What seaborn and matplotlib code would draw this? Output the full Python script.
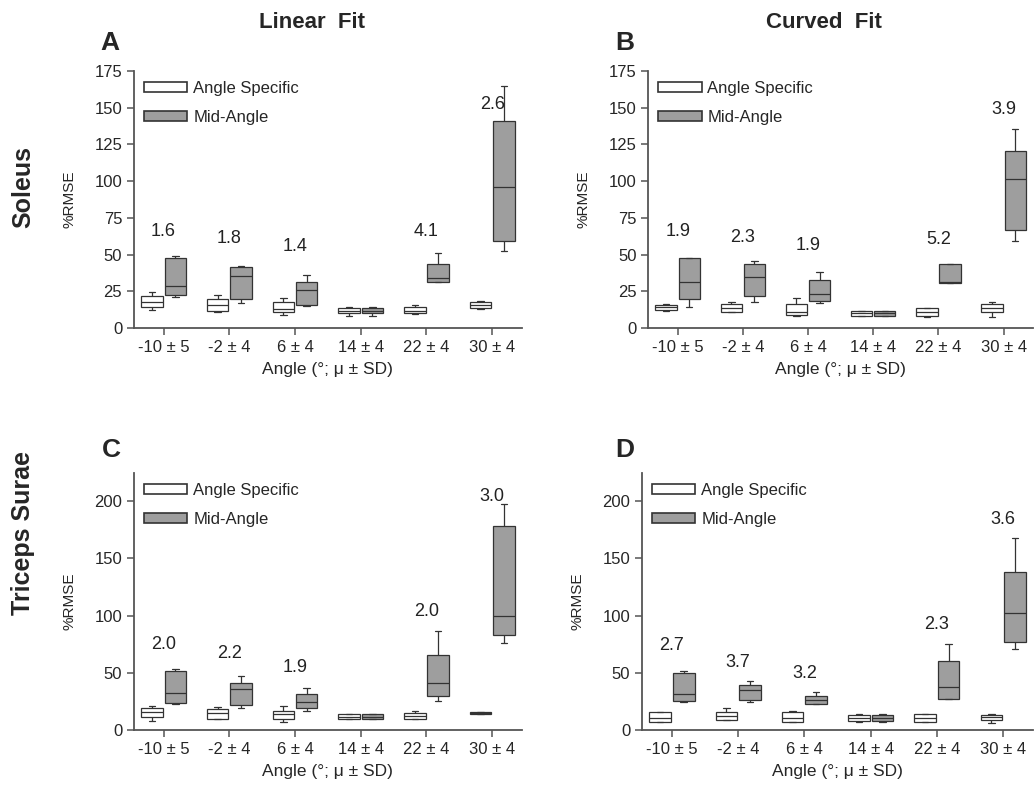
import numpy as np
import pandas as pd
import seaborn as sns
import matplotlib
matplotlib.use("Agg")
from matplotlib import pyplot as plt
from matplotlib.patches import Patch

# Angle categories (x axis)
angles = ["-10 ± 5", "-2 ± 4", "6 ± 4", "14 ± 4", "22 ± 4", "30 ± 4"]
groups = ["Angle Specific", "Mid-Angle"]

# Five-number summaries per box: low whisker, Q1, median, Q3, high whisker
# Panel A: Soleus, linear fit
a_specific = [[12.5, 14.7, 17.5, 22.0, 24.3], [11.3, 11.8, 15.9, 20.0, 22.4],
              [8.8, 10.9, 13.1, 18.1, 20.4], [8.6, 10.2, 12.0, 14.0, 14.3],
              [9.7, 10.2, 11.8, 14.7, 15.9], [13.1, 14.0, 16.1, 18.1, 18.6]]
a_mid = [[21.1, 22.4, 28.8, 47.6, 49.2], [17.0, 19.7, 35.6, 41.5, 42.4],
         [15.4, 15.9, 25.8, 31.1, 36.3], [8.6, 10.2, 12.0, 14.0, 14.3],
         [31.3, 31.7, 33.8, 43.5, 51.0], [52.8, 59.4, 95.7, 141.0, 164.4]]
a_ratio = ["1.6", "1.8", "1.4", "", "4.1", "2.6"]

# Panel B: Soleus, curved fit
b_specific = [[11.8, 12.5, 14.1, 15.9, 16.5], [10.9, 10.9, 13.6, 16.5, 17.7],
              [8.4, 9.1, 10.9, 16.3, 20.4], [8.4, 8.6, 10.2, 12.0, 12.0],
              [7.9, 8.6, 11.3, 13.6, 13.6], [7.9, 10.9, 13.6, 16.3, 17.5]]
b_mid = [[14.7, 19.7, 31.3, 47.6, 48.0], [18.1, 22.2, 34.7, 43.8, 45.8],
         [17.0, 18.6, 23.4, 32.9, 38.1], [8.4, 8.6, 10.2, 12.0, 12.0],
         [30.6, 30.6, 31.7, 43.5, 43.8], [59.4, 66.9, 101.6, 120.8, 135.3]]
b_ratio = ["1.9", "2.3", "1.9", "", "5.2", "3.9"]

# Panel C: Triceps Surae, linear fit
c_specific = [[8.2, 11.7, 15.5, 19.0, 21.0], [9.3, 9.3, 14.6, 18.0, 19.8],
              [7.3, 9.3, 14.0, 16.9, 21.3], [9.3, 9.3, 11.0, 14.0, 14.0],
              [9.6, 9.6, 12.2, 14.6, 16.9], [13.8, 14.3, 14.9, 15.5, 15.9]]
c_mid = [[22.7, 23.3, 32.0, 52.0, 53.0], [19.2, 21.9, 36.2, 41.4, 47.2],
         [16.9, 19.0, 24.8, 31.5, 36.4], [9.3, 9.3, 11.0, 14.0, 14.0],
         [25.7, 29.7, 41.4, 65.3, 86.6], [76.4, 83.0, 100.0, 178.7, 198.0]]
c_ratio = ["2.0", "2.2", "1.9", "", "2.0", "3.0"]

# Panel D: Triceps Surae, curved fit
d_specific = [[7.3, 7.3, 10.8, 15.5, 15.5], [8.7, 8.7, 12.2, 16.0, 19.0],
              [7.3, 7.3, 10.8, 16.0, 16.9], [7.3, 7.9, 10.2, 13.1, 13.7],
              [7.3, 7.3, 10.2, 14.0, 14.0], [6.4, 8.7, 11.7, 13.1, 13.7]]
d_mid = [[24.2, 25.4, 31.5, 50.1, 51.6], [24.2, 26.2, 35.0, 39.4, 42.9],
         [22.7, 22.7, 26.2, 30.0, 33.2], [7.3, 7.9, 10.2, 13.1, 13.7],
         [26.8, 27.1, 37.9, 60.6, 75.2], [70.6, 76.7, 102.6, 138.5, 167.6]]
d_ratio = ["2.7", "3.7", "3.2", "", "2.3", "3.6"]

# Heights at which the ratio labels sit
a_label_y = [66, 61, 55.5, 0, 66, 152]
b_label_y = [66, 62, 56.5, 0, 60, 148.5]
c_label_y = [75, 66.5, 54.5, 0, 103.5, 204.5]
d_label_y = [74, 59, 49.5, 0, 92.5, 184]

GRAY = "#9e9e9e"
EDGE = "#333333"
AXC = "#555555"

sns.set_style("ticks")
plt.rcParams['font.family'] = ['Liberation Sans', 'DejaVu Sans']


def to_long(specific, mid):
    rows = []
    for ang, s, m in zip(angles, specific, mid):
        for v in s:
            rows.append((ang, groups[0], v))
        for v in m:
            rows.append((ang, groups[1], v))
    return pd.DataFrame(rows, columns=["angle", "fit", "rmse"])


def draw(ax, specific, mid, ratios, label_y, ymax, yticks):
    df = to_long(specific, mid)
    sns.boxplot(data=df, x="angle", y="rmse", hue="fit", order=angles,
                hue_order=groups, palette={groups[0]: "white", groups[1]: GRAY},
                whis=(0, 100), width=0.71, gap=0.08, linecolor=EDGE,
                linewidth=0.9, showfliers=False, legend=False,
                capwidths=0.1, ax=ax)
    for i, (r, yy) in enumerate(zip(ratios, label_y)):
        if r:
            ax.text(i, yy, r, ha="center", va="center", fontsize=13, color="#222222")
    ax.set_xlim(-0.45, 5.45)
    ax.set_ylim(0, ymax)
    ax.set_yticks(yticks)
    ax.set_xlabel("Angle (°; μ ± SD)", fontsize=12.5, labelpad=5)
    ax.set_ylabel("%RMSE", fontsize=11, labelpad=13)
    ax.tick_params(axis="both", labelsize=12, length=5, width=1.1,
                   color=AXC, direction="out")
    for side in ["left", "bottom"]:
        ax.spines[side].set_color(AXC)
        ax.spines[side].set_linewidth(1.3)
    sns.despine(ax=ax)
    handles = [Patch(facecolor="white", edgecolor=EDGE, linewidth=1.2, label=groups[0]),
               Patch(facecolor=GRAY, edgecolor=EDGE, linewidth=1.2, label=groups[1])]
    ax.legend(handles=handles, loc="upper left", frameon=False, fontsize=12,
              handlelength=2.6, handleheight=0.6, labelspacing=0.85,
              handletextpad=0.35, borderaxespad=0.3, borderpad=0.3)


fig = plt.figure(figsize=(10.34, 7.87), dpi=100)
ax_a = fig.add_axes([0.1296, 0.583, 0.375, 0.327])
ax_b = fig.add_axes([0.627, 0.583, 0.372, 0.327])
ax_c = fig.add_axes([0.1296, 0.0724, 0.375, 0.327])
ax_d = fig.add_axes([0.621, 0.0724, 0.378, 0.327])

draw(ax_a, a_specific, a_mid, a_ratio, a_label_y, 175, range(0, 176, 25))
draw(ax_b, b_specific, b_mid, b_ratio, b_label_y, 175, range(0, 176, 25))
draw(ax_c, c_specific, c_mid, c_ratio, c_label_y, 225, range(0, 201, 50))
draw(ax_d, d_specific, d_mid, d_ratio, d_label_y, 225, range(0, 201, 50))

# Column titles, panel letters and row labels
fig.text(312 / 1034, 1 - 22 / 787, "Linear  Fit", ha="center", va="center",
         fontsize=16, fontweight="bold")
fig.text(824 / 1034, 1 - 22 / 787, "Curved  Fit", ha="center", va="center",
         fontsize=16, fontweight="bold")
for letter, x, y in [("A", 110, 43), ("B", 625, 43), ("C", 111, 450), ("D", 625, 450)]:
    fig.text(x / 1034, 1 - y / 787, letter, ha="center", va="center",
             fontsize=19, fontweight="bold")
fig.text(23 / 1034, 1 - 187 / 787, "Soleus", rotation=90, ha="center", va="center",
         fontsize=18, fontweight="bold")
fig.text(23 / 1034, 1 - 533 / 787, "Triceps Surae", rotation=90, ha="center",
         va="center", fontsize=18, fontweight="bold")

fig.savefig("out.png", dpi=100)
